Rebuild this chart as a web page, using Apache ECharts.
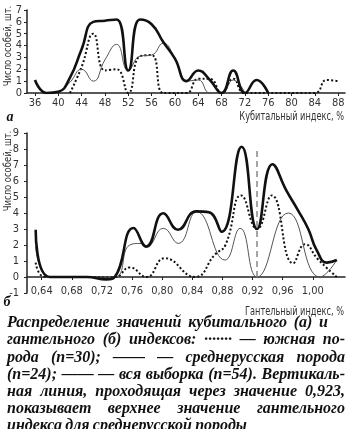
<!DOCTYPE html>
<html><head><meta charset="utf-8">
<script src="https://cdn.jsdelivr.net/npm/echarts@6/dist/echarts.min.js"></script>
<style>html,body{margin:0;padding:0;background:#fff}#c{width:350px;height:429px}</style>
</head><body><div id="c"></div>
<script>
// ---- Chart а: cubital index ----
const cubX      = [36,38,40,42,44,46,48,50,52,54,56,58,60,62,64,66,68,70,72,74,76,78,80,82,84,86,88];
const cubAll    = [1.1,0,0.1,1.3,3.7,6.0,6.1,6.2,1.9,6.2,5.8,4.3,2.9,1.0,1.9,1.1,0,1.9,0,1.1,0,null,null,null,null,null,null];
const cubMid    = [null,null,0,0.9,2.0,1.0,2.8,4.1,1.9,3.1,3.2,4.2,2.9,1.0,1.1,0,0,1.1,0,null,null,null,null,null,null,null,null];
const cubSouth  = [null,null,null,0,2.2,5.0,1.9,2.0,0,3.1,3.2,0,0,0,1.2,1.2,0,1.2,0,null,null,null,null,null,0,1.1,1.0];
const cubTicks  = [36,40,44,48,52,56,60,64,68,72,76,80,84,88];

// ---- Chart б: dumbbell (hantel) index ----
const hantAllX   = [0.632,0.651,0.70,0.726,0.737,0.762,0.779,0.8015,0.821,0.845,0.862,0.879,0.9056,0.926,0.9465,0.965,0.98,0.994,1.005,1.019,1.032];
const hantAllY   = [2.95,0,0,-0.15,0,3.06,1.9,3.98,2.95,4.1,4.05,2.83,8.14,3.0,7.05,5.4,4.2,3.0,1.7,0.9,1.06];
const hantMidX   = [0.632,0.651,0.70,0.737,0.757,0.772,0.7794,0.8015,0.8214,0.8458,0.8834,0.9035,0.926,0.9675,1.0096,1.032];
const hantMidY   = [1.9,0,0,0,2.0,2.1,1.9,3.04,2.1,4.08,1.06,3.04,0,4.0,0,1.06];
const hantSouthX = [0.632,0.645,0.737,0.757,0.779,0.8035,0.8437,0.870,0.884,0.905,0.926,0.9455,0.974,0.9897,1.007,1.032];
const hantSouthY = [0.9,0,0,0.6,0,1.17,0,1.4,2.0,5.1,3.0,5.1,0.86,2.05,1.1,0];
const hantTicks  = [0.64,0.68,0.72,0.76,0.80,0.84,0.88,0.92,0.96,1.00];
const hantLimit  = 0.926;   // vertical line (upper value 0,923)
const hantLimitTop = 8.1;

const captionLines = [
  'Распределение значений кубитального (а) и',
  'гантельного (б) индексов: ······· — южная по-',
  'рода (n=30); —— — среднерусская порода',
  '(n=24); —— — вся выборка (n=54). Вертикаль-',
  'ная линия, проходящая через значение 0,923,',
  'показывает верхнее значение гантельного',
  'индекса для среднерусской породы'
];

const narrow = "'Liberation Sans Narrow','DejaVu Sans Condensed','Liberation Sans',sans-serif";
const ink = '#222';
const pairs = (xs, ys) => xs.map((x,i)=>[x, ys[i]]).filter(p => p[1] !== null);

const thick = {color:'#111', width:2.6};
const thin  = {color:'#555', width:1};
const dots  = {color:'#111', width:2, type:[2,2.2]};

function xAx(grid, min, max, ticks, fmt, margin, offset){
  return {gridIndex:grid, type:'value', min:min, max:max, offset:offset,
    axisLine:{show:true, onZero:false, lineStyle:{color:ink, width:1.5}},
    axisTick:{show:true, customValues:ticks, length:3, lineStyle:{color:ink}},
    axisLabel:{show:true, customValues:ticks, formatter:fmt, fontSize:11, color:'#333', fontFamily:narrow, margin:margin},
    splitLine:{show:false}};
}
function yAx(grid, min, max, margin){
  return {gridIndex:grid, type:'value', min:min, max:max, interval:1,
    axisLine:{show:true, onZero:false, lineStyle:{color:ink, width:1.5}},
    axisTick:{show:true, length:3, lineStyle:{color:ink}},
    axisLabel:{fontSize:11, color:'#333', fontFamily:narrow, margin:margin},
    splitLine:{show:false}};
}
function line(xi, yi, data, style, extra){
  return Object.assign({type:'line', xAxisIndex:xi, yAxisIndex:yi, data:data, smooth:true,
    showSymbol:false, symbol:'none', lineStyle:style, silent:true, z:3}, extra||{});
}

// caption: justified words
const ctx = document.createElement('canvas').getContext('2d');
const capSize = 16;
ctx.font = 'italic bold ' + capSize + 'px "Liberation Serif"';
const capTargets = [328,345,345,345,345,345,null];
const capLeft = 7, capY0 = 323, capDY = 17.2;
const graphics = [];
captionLines.forEach((ln, li) => {
  const words = ln.split(' ');
  const widths = words.map(w => ctx.measureText(w).width);
  const sum = widths.reduce((a,b)=>a+b,0);
  let gap = ctx.measureText(' ').width * 0.8;
  let sx = 1;
  if (capTargets[li] !== null && words.length > 1) {
    const avail = capTargets[li] - capLeft;
    gap = (avail - sum) / (words.length - 1);
    if (gap < 3) { sx = (avail - 3*(words.length-1)) / sum; gap = 3; }
  }
  let x = capLeft;
  words.forEach((w, wi) => {
    graphics.push({type:'text', x:x, y:capY0 + li*capDY, scaleX:sx, silent:true,
      style:{text:w, fill:'#111', fontSize:capSize, fontStyle:'italic', fontWeight:'bold',
             fontFamily:'"Liberation Serif", serif', align:'left', verticalAlign:'middle'}});
    x += widths[wi]*sx + gap;
  });
});
const label = (txt, x, y, extra, sx) => ({type:'text', x:x, y:y, silent:true, scaleX:sx||1,
  style:Object.assign({text:txt, fill:'#333', fontSize:11, fontFamily:narrow, align:'center', verticalAlign:'middle'}, extra||{})});
graphics.push(Object.assign(label('Число особей, шт.', 8, 46, null, 0.85), {rotation:Math.PI/2}));
graphics.push(Object.assign(label('Число особей, шт.', 8, 171, null, 0.85), {rotation:Math.PI/2}));
graphics.push(label('Кубитальный индекс, %', 344, 117, {align:'right', fontSize:12}, 0.76));
graphics.push(label('Гантельный индекс, %', 344, 312, {align:'right', fontSize:12}, 0.76));
graphics.push(label('а', 10, 117, {fill:'#111', fontSize:14, fontStyle:'italic', fontWeight:'bold', fontFamily:'"Liberation Serif", serif'}));
graphics.push(label('б', 7, 302, {fill:'#111', fontSize:14, fontStyle:'italic', fontWeight:'bold', fontFamily:'"Liberation Serif", serif'}));

const fmtB = v => Number(v).toFixed(2).replace('.', ',');

const option = {
  animation:false,
  backgroundColor:'#fff',
  grid:[{left:27, top:10, width:318, height:83},{left:27, top:133, width:318, height:160}],
  xAxis:[xAx(0, 34.63, 89.17, cubTicks, v=>String(v), 5, 0), xAx(1, 0.6205, 1.0428, hantTicks, fmtB, 9, -16)],
  yAxis:[yAx(0, 0, 7, 5), yAx(1, -1, 9, 8)],
  series:[
    line(0,0,pairs(cubX,cubSouth),dots),
    line(0,0,pairs(cubX,cubMid),thin),
    line(0,0,pairs(cubX,cubAll),thick),
    line(1,1,pairs(hantSouthX,hantSouthY),dots),
    line(1,1,pairs(hantMidX,hantMidY),thin,{markLine:{silent:true, symbol:'none', label:{show:false},
      lineStyle:{type:[6,4], color:'#888', width:1.5},
      data:[[{coord:[hantLimit,0]},{coord:[hantLimit,hantLimitTop]}]]}}),
    line(1,1,pairs(hantAllX,hantAllY),thick)
  ],
  graphic:graphics
};
echarts.init(document.getElementById('c'), null, {renderer:'canvas'}).setOption(option);
</script>
</body></html>
